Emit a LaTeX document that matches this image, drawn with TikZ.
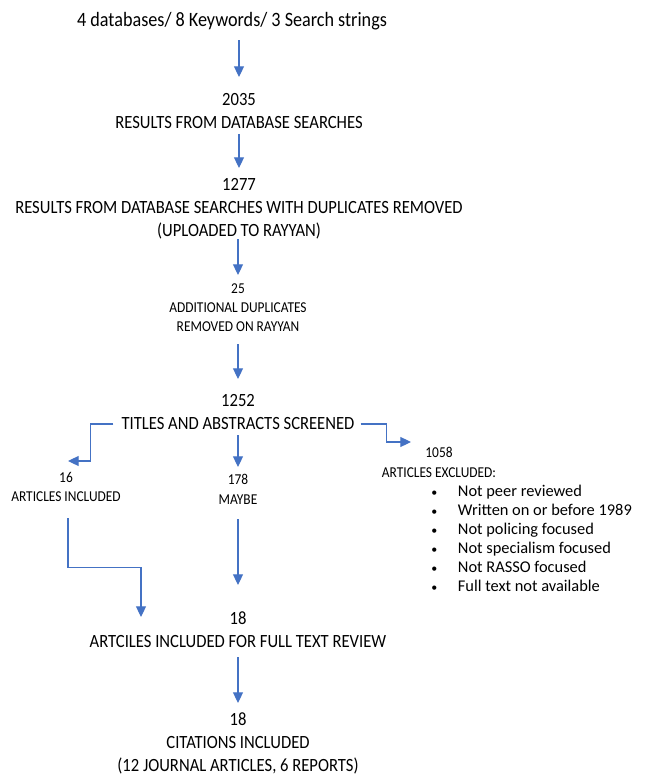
\documentclass[tikz,border=0pt]{standalone}
\usepackage{fontspec}
\setmainfont{Carlito}[FakeStretch=0.89]
\newfontfamily\listfont{Carlito}
\usepackage{xcolor}
\usetikzlibrary{arrows.meta, positioning}
\definecolor{flowblue}{HTML}{4472C4}

\begin{document}
\begin{tikzpicture}[x=0.75pt, y=-0.75pt,
    big/.style={align=center, inner sep=0pt, anchor=north, font=\fontsize{14}{17.25}\selectfont},
    small/.style={align=center, inner sep=0pt, anchor=north, font=\fontsize{11.3}{14.6}\selectfont},
    flow/.style={draw=flowblue, line width=0.8pt, -{Triangle[length=8pt, width=7.5pt]}}]
            \useasboundingbox (0,0) rectangle (644,777);

            \node[big, anchor=center, font=\fontsize{15.3}{18}\selectfont] (search) at (232,21) {4 databases/ 8 Keywords/ 3 Search strings};
            \node[big] (r2035) at (239,93) {2035\\RESULTS FROM DATABASE SEARCHES};
            \node[big] (r1277) at (239,178) {1277\\RESULTS FROM DATABASE SEARCHES WITH DUPLICATES REMOVED\\(UPLOADED TO RAYYAN)};
            \node[small] (d25) at (238,283) {25\\ADDITIONAL DUPLICATES\\REMOVED ON RAYYAN};
            \node[big] (n1252) at (238,394) {1252};
            \node[big, anchor=center] (screen) at (238,424) {TITLES AND ABSTRACTS SCREENED};
            \node[small] (inc16) at (66,472) {16\\ARTICLES INCLUDED};
            \node[small] (may178) at (238,474) {178\\MAYBE};
            \node[small] (exc1058) at (439,447) {1058\\ARTICLES EXCLUDED:};
            \node[small, align=left, anchor=north west, font=\listfont\fontsize{12.3}{14.25}\selectfont] (reasons) at (431,485) {%
                \makebox[20pt][l]{\small\textbullet}Not peer reviewed\\
                \makebox[20pt][l]{\small\textbullet}Written on or before 1989\\
                \makebox[20pt][l]{\small\textbullet}Not policing focused\\
                \makebox[20pt][l]{\small\textbullet}Not specialism focused\\
                \makebox[20pt][l]{\small\textbullet}Not RASSO focused\\
                \makebox[20pt][l]{\small\textbullet}Full text not available};
            \node[big] (full18) at (238,611) {18\\ARTCILES INCLUDED FOR FULL TEXT REVIEW};
            \node[big] (cite18) at (238,712) {18\\CITATIONS INCLUDED\\(12 JOURNAL ARTICLES, 6 REPORTS)};

            \coordinate (tipL) at (68,461);
            \coordinate (tipR) at (411,442);
            \coordinate (tipF) at (141,617);

            \draw[flow, shorten <=7.5pt, shorten >=12pt] (search.south -| r2035.north) -- (r2035.north);
            \draw[flow, shorten <=3.75pt, shorten >=7.5pt] (r2035) -- (r1277);
            \draw[flow, shorten >=6pt] (r1277.south -| d25.north) -- (d25.north);
            \draw[flow, shorten <=9pt, shorten >=11.25pt] (d25.south) -- (n1252.north);
            \draw[flow, shorten <=3.75pt, shorten >=5.25pt] (screen.south) -- (may178.north);
            \draw[flow, shorten <=6pt] (screen.west) -- ++(-31,0) |- (tipL);
            \draw[flow, shorten <=4.5pt] (screen.east) -- ++(32,0) |- (tipR);
            \draw[flow, shorten <=12pt] (inc16.south -| tipL) -- ++(0,65) -| (tipF);
            \draw[flow, shorten <=11.25pt, shorten >=19.5pt] (may178.south) -- (full18.north);
            \draw[flow, shorten <=7.5pt, shorten >=6.75pt] (full18.south) -- (cite18.north);
        \end{tikzpicture}
\end{document}
